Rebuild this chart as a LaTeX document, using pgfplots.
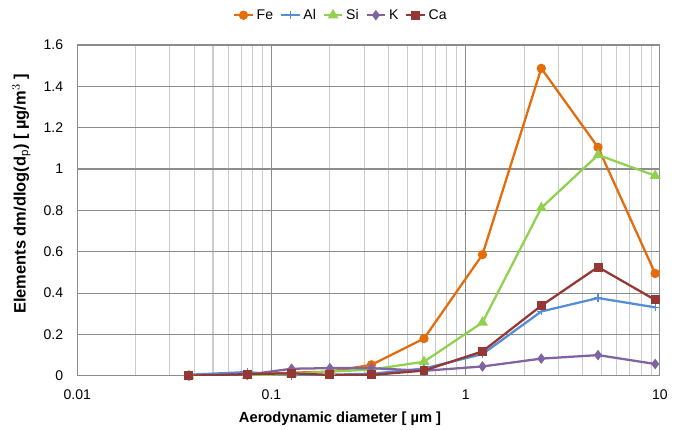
\documentclass[border=0pt]{standalone}
\usepackage{fontspec}
\setmainfont{Liberation Sans}
\usepackage{pgfplots}
\pgfplotsset{compat=1.18}
\definecolor{cFe}{RGB}{228,108,10}
\definecolor{cAl}{RGB}{85,142,213}
\definecolor{cSi}{RGB}{146,208,80}
\definecolor{cK}{RGB}{128,100,162}
\definecolor{cCa}{RGB}{149,55,53}
\begin{document}
\begin{tikzpicture}
\begin{axis}[
  scale only axis,
  width=436pt, height=247.5pt,
  xmode=log, xmin=0.01, xmax=10,
  ymin=0, ymax=1.6, ytick={0,0.2,...,1.6},
  yticklabels={0,0.2,0.4,0.6,0.8,1,1.2,1.4,1.6},
  xtick={0.01,0.1,1,10}, xticklabels={0.01,0.1,1,10},
  minor xtick={0.02,0.03,0.04,0.05,0.06,0.07,0.08,0.09,0.2,0.3,0.4,0.5,0.6,0.7,0.8,0.9,2,3,4,5,6,7,8,9},
  /pgf/number format/assume math mode=true,
  xmajorgrids, ymajorgrids, xminorgrids,
  major grid style={draw=black!45, line width=0.8pt},
  minor grid style={draw=black!20, line width=0.8pt},
  axis line style={draw=black!45, line width=0.8pt},
  tick style={draw=none},
  tick label style={font=\fontsize{10.5}{12}\selectfont},
  xticklabel style={yshift=-7pt},
  yticklabel style={xshift=-7pt},
  xlabel={\bfseries Aerodynamic diameter [ µm ]},
  ylabel={\bfseries Elements dm/dlog(d$_\mathrm{p}$) [ µg/m$^3$ ]},
  xlabel style={font=\fontsize{11}{13}\selectfont, at={(ticklabel cs:0.451)}, anchor=north, yshift=-2pt},
  ylabel style={font=\fontsize{12.3}{14}\selectfont, at={(ticklabel cs:0.55)}, anchor=south, yshift=3pt},
  legend style={at={(0.453,1.09)}, anchor=center, draw=none, fill=none,
    legend columns=-1, font=\fontsize{10.5}{12}\selectfont,
    /tikz/every even column/.append style={column sep=3pt}},
  legend image code/.code={\draw[#1] (0pt,0pt) -- (14pt,0pt); \draw[#1,only marks] plot coordinates {(7pt,0pt)};},
  every axis plot/.append style={line width=1.7pt},
]
\addplot[color=cFe, mark=*, mark size=2.6pt] coordinates {
 (0.0376,0) (0.075,0.005) (0.127,0.015) (0.20,0.02) (0.327,0.053) (0.61,0.18) (1.22,0.586) (2.45,1.487) (4.8,1.105) (9.45,0.495)};
\addlegendentry{Fe}
\addplot[color=cAl, mark=+, mark size=3pt, mark options={line width=1pt}] coordinates {
 (0.0376,0.005) (0.075,0.018) (0.127,0.0) (0.20,0.005) (0.327,0.01) (0.61,0.035) (1.22,0.105) (2.45,0.311) (4.8,0.376) (9.45,0.331)};
\addlegendentry{Al}
\addplot[color=cSi, mark=triangle*, mark size=3pt] coordinates {
 (0.0376,0) (0.075,0) (0.127,0.01) (0.20,0.02) (0.327,0.03) (0.61,0.068) (1.22,0.258) (2.45,0.812) (4.8,1.068) (9.45,0.968)};
\addlegendentry{Si}
\addplot[color=cK, mark=diamond*, mark size=2.6pt] coordinates {
 (0.0376,0) (0.075,0.005) (0.127,0.034) (0.20,0.037) (0.327,0.037) (0.61,0.024) (1.22,0.045) (2.45,0.083) (4.8,0.10) (9.45,0.057)};
\addlegendentry{K}
\addplot[color=cCa, mark=square*, mark size=2.5pt] coordinates {
 (0.0376,0) (0.075,0.008) (0.127,0.012) (0.20,0.004) (0.327,0.004) (0.61,0.025) (1.22,0.118) (2.45,0.339) (4.8,0.526) (9.45,0.367)};
\addlegendentry{Ca}
\coordinate (bl) at (axis description cs:-0.1325,-0.1636);
\coordinate (tr) at (axis description cs:1.0224,1.136);
\end{axis}
\pgfresetboundingbox
\path (bl) rectangle (tr);
\end{tikzpicture}
\end{document}
